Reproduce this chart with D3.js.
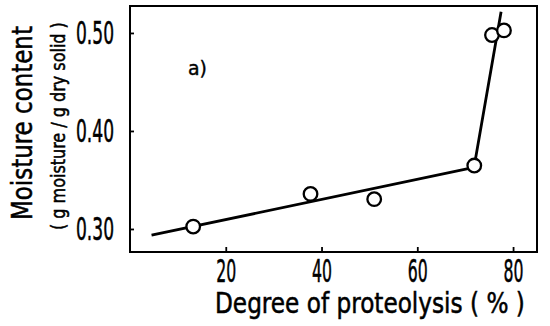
<!DOCTYPE html>
<html>
<head>
<meta charset="utf-8">
<script src="https://cdn.jsdelivr.net/npm/d3@7"></script>
<style>
  html, body { margin: 0; padding: 0; background: #fff; }
  svg { display: block; }
  text { fill: #000; stroke: #000; }
</style>
</head>
<body>
<svg id="chart" width="550" height="326"></svg>
<script>
// ---- data ----
const pointX = [13.2, 37.7, 51.0, 71.9, 75.6, 78.1];
const pointY = [0.3024, 0.3358, 0.3304, 0.3647, 0.4979, 0.5026];
const fitX = [4.5, 71.85, 77.5];
const fitY = [0.2936, 0.3629, 0.5216];
const xTicks = [20, 40, 60, 80];
const yTicks = [0.30, 0.40, 0.50];
const yTickLabels = ["0.30", "0.40", "0.50"];
const xTitle = "Degree of proteolysis ( % )";
const yTitle = "Moisture content";
const ySubTitle = "( g moisture / g dry solid )";
const panelLabel = "a)";

// ---- layout ----
const svg = d3.select("#chart");
const plotL = 130, plotR = 537, plotT = 6, plotB = 252;
const x = d3.scaleLinear().domain([0, 85]).range([plotL, plotR]);
const y = d3.scaleLinear().domain([0.2765, 0.5275]).range([plotB, plotT]);
const font = "'DejaVu Sans Condensed', 'Liberation Sans Narrow', 'Liberation Sans', sans-serif";

// text placed then squeezed horizontally to a target width
function placeText(str, o) {
  const t = svg.append("text")
    .attr("font-family", o.family || font)
    .attr("font-size", o.size)
    .attr("stroke-width", o.sw == null ? 0.5 : o.sw)
    .attr("text-anchor", o.anchor || "start")
    .text(str);
  const w = t.node().getComputedTextLength();
  const s = o.width / w;
  t.attr("transform", `translate(${o.x},${o.y}) rotate(${o.rotate || 0}) scale(${s},1)`);
  return t;
}

// frame
svg.append("rect")
  .attr("x", plotL).attr("y", plotT)
  .attr("width", plotR - plotL).attr("height", plotB - plotT)
  .attr("fill", "none").attr("stroke", "#000").attr("stroke-width", 2);

// axes (inward ticks)
const gx = svg.append("g").attr("transform", `translate(0,${plotB})`)
  .call(d3.axisBottom(x).tickValues(xTicks).tickSize(-5).tickFormat(""));
const gy = svg.append("g").attr("transform", `translate(${plotL},0)`)
  .call(d3.axisLeft(y).tickValues(yTicks).tickSize(-4).tickFormat(""));
[gx, gy].forEach(g => {
  g.select(".domain").remove();
  g.selectAll(".tick line").attr("stroke", "#000").attr("stroke-width", 1.8);
});

// x tick labels
xTicks.forEach(d => placeText(String(d), {
  x: x(d) + 0.5, y: 282, size: 32, width: 20, anchor: "middle"
}));

// y tick labels
yTicks.forEach((d, i) => placeText(yTickLabels[i], {
  x: 114, y: y(d) + 11, size: 32, width: 38, anchor: "end"
}));

// x title
placeText(xTitle, { x: 215, y: 313, size: 28, width: 310 });

// y title
placeText(yTitle, { x: 31.5, y: 220, size: 28, width: 194, rotate: -90 });

// y subtitle
placeText(ySubTitle, { x: 65, y: 230, size: 20, width: 208, rotate: -90 });

// panel label
placeText(panelLabel, { x: 188, y: 75, size: 20, width: 19, family: "'DejaVu Sans', sans-serif", sw: 0.4 });

// fitted line
const line = d3.line().x(d => x(d[0])).y(d => y(d[1]));
svg.append("path")
  .datum(fitX.map((v, i) => [v, fitY[i]]))
  .attr("d", line)
  .attr("fill", "none").attr("stroke", "#000").attr("stroke-width", 2.8)
  .attr("stroke-linejoin", "round");

// points
svg.append("g").selectAll("circle")
  .data(pointX.map((v, i) => [v, pointY[i]]))
  .join("circle")
  .attr("cx", d => x(d[0])).attr("cy", d => y(d[1]))
  .attr("r", 6.8)
  .attr("fill", "#fff").attr("stroke", "#000").attr("stroke-width", 2.3);
</script>
</body>
</html>
